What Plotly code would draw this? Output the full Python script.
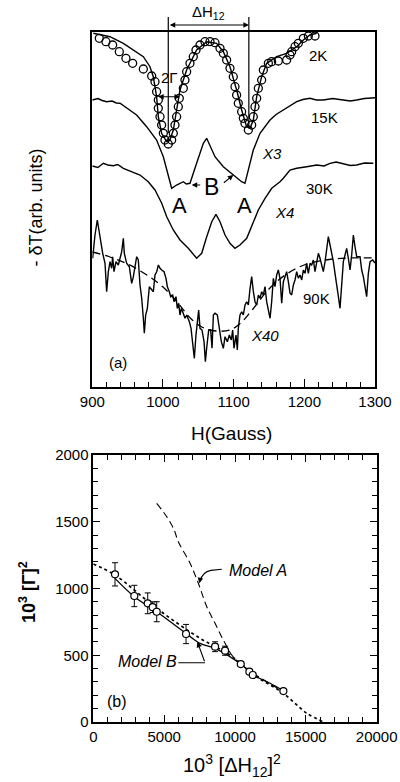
import plotly.graph_objects as go

# ---------------- panel (a) data: H (Gauss), signal (arb. units) ----------------
H_2K_pts = [909.9, 919.3, 928.8, 938.2, 947.6, 957.1, 972.2, 984.0, 988.7, 991.0, 993.4, 993.4,
            995.8, 998.1, 1000.5, 1002.8, 1007.5, 1012.3, 1014.6, 1017.0, 1019.3, 1021.7, 1023.1,
            1028.8, 1031.1, 1033.5, 1038.2, 1042.9, 1046.7, 1052.4, 1059.4, 1066.5, 1073.6, 1080.7,
            1085.4, 1090.1, 1094.8, 1099.5, 1101.9, 1104.2, 1106.6, 1111.3, 1113.7, 1116.0, 1120.8,
            1125.5, 1127.8, 1130.2, 1132.6, 1134.9, 1139.6, 1142.0, 1149.1, 1153.8, 1163.2, 1175.0,
            1179.7, 1182.1, 1186.8, 1191.5, 1198.6, 1205.7, 1215.1]
S_2K_pts = [348.7, 345.3, 342.0, 335.3, 328.7, 323.7, 318.0, 311.0, 305.3, 295.3, 287.0, 278.7,
            270.3, 262.0, 253.7, 247.0, 243.0, 247.0, 253.7, 262.0, 270.3, 280.3, 288.7,
            298.7, 307.0, 315.3, 323.7, 330.3, 337.0, 342.0, 345.3, 345.3, 344.3, 338.7,
            333.7, 327.0, 318.7, 310.3, 300.3, 292.0, 283.7, 275.3, 268.7, 263.7, 257.0,
            262.0, 270.3, 280.3, 288.7, 298.7, 307.0, 317.0, 323.7, 325.3, 326.0, 327.0,
            332.0, 335.3, 340.3, 343.7, 348.7, 351.0, 351.0]

H_2K_fit = [901.4, 925.0, 943.9, 958.0, 972.2, 981.6, 986.3, 991.0, 993.4, 998.1, 1005.2, 1009.9,
            1014.6, 1019.3, 1024.1, 1033.5, 1047.6, 1061.8, 1075.9, 1085.4, 1094.8, 1104.2, 1111.3,
            1118.4, 1123.1, 1127.8, 1132.6, 1139.6, 1146.7, 1160.9, 1175.0, 1189.2, 1198.6, 1208.0, 1217.5]
S_2K_fit = [353.7, 350.3, 343.7, 337.0, 330.3, 320.3, 310.3, 290.3, 270.3, 253.7, 245.3, 247.0,
            257.0, 277.0, 297.0, 317.0, 337.0, 345.3, 343.7, 335.3, 320.3, 297.0, 277.0,
            260.3, 258.7, 267.0, 290.3, 310.3, 323.7, 330.3, 333.7, 340.3, 347.0, 352.0, 353.7]

H_15K = [900.0, 908.0, 914.0, 920.3, 928.0, 934.0, 939.2, 948.6, 962.7, 976.9, 991.0, 1000.5, 1007.5,
         1012.3, 1019.3, 1024.0, 1028.8, 1033.0, 1038.2, 1047.6, 1057.1, 1061.8, 1066.5, 1073.6,
         1085.4, 1092.0, 1099.5, 1105.0, 1111.3, 1116.0, 1120.8, 1127.8, 1137.3, 1151.4, 1160.0,
         1170.3, 1180.0, 1189.2, 1198.0, 1208.0, 1217.0, 1226.9, 1240.0, 1255.2, 1265.0, 1274.1,
         1285.0, 1300.0]
S_15K = [287.0, 288.5, 286.5, 285.3, 286.0, 284.0, 283.7, 278.7, 272.0, 260.3, 247.0, 230.3, 210.3,
         198.7, 202.0, 204.0, 205.3, 203.0, 203.7, 223.7, 243.7, 248.7, 242.0, 230.3,
         220.3, 216.5, 212.0, 209.0, 205.3, 203.7, 217.0, 237.0, 253.7, 267.0, 272.5,
         277.0, 282.0, 285.3, 287.5, 288.7, 287.0, 287.0, 288.5, 287.0, 286.0, 287.0,
         288.5, 289.3]

H_30K = [900.0, 908.0, 915.6, 922.0, 929.7, 936.0, 943.9, 953.3, 967.5, 979.2, 988.7, 991.1, 998.2,
         1005.3, 1014.6, 1024.1, 1035.8, 1047.7, 1054.8, 1061.9, 1069.0, 1075.0, 1080.7, 1087.8,
         1094.8, 1101.8, 1108.9, 1118.5, 1127.8, 1134.9, 1144.4, 1153.9, 1165.6, 1170.3, 1179.7,
         1189.2, 1203.4, 1217.5, 1228.0, 1236.3, 1245.0, 1255.2, 1265.0, 1274.1, 1285.0, 1297.6]
S_30K = [221.0, 219.5, 223.7, 222.0, 221.3, 222.5, 218.7, 216.3, 212.0, 205.3, 197.0, 193.7, 183.7,
         170.3, 157.0, 147.0, 138.7, 128.7, 133.7, 150.3, 165.3, 172.7, 165.3, 152.0,
         143.7, 138.7, 142.0, 148.7, 163.7, 177.0, 188.7, 198.7, 205.3, 208.7, 217.0,
         218.7, 220.3, 222.0, 221.0, 223.7, 225.0, 223.0, 221.5, 222.0, 224.0, 223.7]

H_90K = [900.5, 903.8, 907.1, 910.9, 914.7, 918.0, 920.3, 922.7, 925.1, 927.4, 928.8, 930.7, 933.5,
         936.8, 939.2, 941.6, 943.9, 945.3, 948.6, 952.4, 955.7, 958.1, 962.8, 965.1, 967.5, 969.9,
         972.2, 973.6, 975.5, 977.9, 980.7, 984.0, 986.4, 988.7, 991.1, 993.5, 995.8, 998.2, 1001.5,
         1004.3, 1006.2, 1009.0, 1010.9, 1013.7, 1015.6, 1018.4, 1020.3, 1022.2, 1024.1, 1026.0,
         1028.8, 1031.2, 1033.5, 1037.3, 1039.7, 1042.0, 1044.4, 1046.7, 1049.1, 1050.5, 1052.4,
         1055.2, 1058.1, 1060.0, 1061.8, 1064.7, 1067.5, 1069.4, 1071.3, 1073.6, 1076.9, 1079.8,
         1082.6, 1085.4, 1087.8, 1091.1, 1093.9, 1096.7, 1098.6, 1100.5, 1103.3, 1105.2, 1106.6,
         1109.0, 1111.4, 1113.7, 1116.1, 1118.4, 1120.8, 1123.2, 1125.5, 1127.9, 1130.2, 1132.6,
         1135.0, 1137.3, 1139.7, 1142.0, 1144.4, 1146.7, 1149.1, 1151.5, 1153.8, 1156.2, 1158.5,
         1160.9, 1163.2, 1165.6, 1168.0, 1170.3, 1172.7, 1175.0, 1177.4, 1179.8, 1182.1, 1184.5,
         1186.8, 1189.2, 1191.6, 1193.9, 1196.3, 1198.6, 1201.0, 1203.3, 1205.7, 1208.1, 1210.4,
         1212.8, 1215.1, 1217.5, 1219.9, 1222.2, 1224.6, 1226.9, 1229.3, 1231.6, 1234.0, 1236.4,
         1238.7, 1241.1, 1243.4, 1245.8, 1248.2, 1250.5, 1252.9, 1255.2, 1257.6, 1259.9, 1262.3,
         1264.7, 1267.0, 1269.4, 1271.7, 1274.1, 1278.8, 1281.2, 1283.5, 1285.9, 1288.2, 1290.6,
         1293.0, 1296.7, 1300.0]
S_90K = [128.7, 152.0, 167.0, 148.7, 133.7, 123.7, 95.3, 115.3, 125.3, 118.7, 130.3, 115.3, 125.3,
         122.0, 128.7, 135.3, 148.7, 133.7, 123.7, 120.3, 103.7, 110.3, 130.3, 127.0, 102.0, 88.7,
         68.7, 53.7, 72.0, 78.7, 100.3, 97.0, 95.3, 112.0, 115.3, 122.0, 118.7, 117.0, 115.3,
         108.7, 100.3, 95.3, 90.3, 92.0, 85.3, 90.3, 78.7, 83.7, 72.0, 78.7,
         73.7, 68.7, 72.0, 65.3, 58.7, 43.7, 28.7, 52.0, 65.3, 77.0, 58.7,
         57.0, 45.3, 25.3, 38.7, 57.0, 57.0, 38.7, 72.0, 73.7, 72.0, 58.7,
         45.3, 38.7, 50.3, 45.3, 52.0, 47.0, 57.0, 38.7, 52.0, 37.0, 58.7,
         72.0, 75.3, 72.0, 82.0, 85.3, 82.0, 98.7, 110.3, 95.3, 85.3, 82.0,
         92.0, 88.7, 95.3, 92.0, 100.3, 85.3, 75.3, 68.7, 85.3, 108.7, 100.3,
         112.0, 117.0, 108.7, 83.7, 105.3, 110.3, 115.3, 105.3, 93.7, 92.0, 102.0,
         107.0, 115.3, 108.7, 112.0, 107.0, 117.0, 113.7, 123.7, 113.7, 123.7, 122.0,
         127.0, 115.3, 125.3, 133.7, 128.7, 122.0, 115.3, 125.3, 138.7, 150.3, 142.0,
         135.3, 125.3, 113.7, 98.7, 90.3, 78.7, 105.3, 125.3, 132.0, 138.7, 128.7,
         117.0, 132.0, 152.0, 140.3, 130.3, 130.3, 117.0, 110.3, 102.0, 90.3, 113.7,
         125.3, 127.0, 124.0]

H_90K_fit = [900, 925, 950, 975, 1000, 1020, 1040, 1055, 1075, 1095, 1110, 1125, 1150, 1175,
             1200, 1230, 1260, 1300]
S_90K_fit = [135, 130, 123, 113, 100, 85, 68, 60, 56, 57, 64, 76, 98, 113, 122, 127, 129, 129]

H_TICKS = [900, 1000, 1100, 1200, 1300]

# ---------------- panel (b) data ----------------
dH2 = [1532, 2895, 3840, 4190, 4476, 6545, 8592, 9298, 10406, 11014, 11253, 13414]
G2 = [1106, 944, 889, 860, 826, 659, 564, 534, 434, 377, 352, 232]
G2_err = [87, 80, 78, 40, 75, 72, 37, 34, 0, 0, 0, 0]

modelB_x = [1532, 2895, 4476, 6545, 7533, 8592, 10406, 11296, 12475, 13414]
modelB_y = [1076, 939, 826, 664, 589, 552, 434, 352, 290, 234]

lin_x = [0, 1532, 4476, 7533, 9651, 11536, 13414, 15066, 16250]
lin_y = [1183, 1101, 851, 627, 502, 339, 215, 65, 0]

modelA_x = [4476, 5181, 5700, 6001, 6827, 7413, 8006, 8592, 9178, 9769, 10357, 11296, 12238, 13180]
modelA_y = [1638, 1538, 1440, 1350, 1189, 1039, 864, 739, 614, 502, 440, 365, 302, 240]

X2_TICKS = [0, 5000, 10000, 15000, 20000]
Y2_TICKS = [0, 500, 1000, 1500, 2000]

# ---------------- layout geometry ----------------
W, HGT = 400, 782
TOP_X = [92.3 / W, 375.0 / W]
TOP_Y = [1 - 387.0 / HGT, 1 - 32.0 / HGT]
BOT_X = [93.3 / W, 376.7 / W]
BOT_Y = [1 - 722.0 / HGT, 1 - 455.0 / HGT]
H_RANGE = [900, 1300]
S_RANGE = [0, 355]


def top_px(h):
    return TOP_X[0] + (h - H_RANGE[0]) / (H_RANGE[1] - H_RANGE[0]) * (TOP_X[1] - TOP_X[0])


def top_py(s):
    return TOP_Y[0] + (s - S_RANGE[0]) / (S_RANGE[1] - S_RANGE[0]) * (TOP_Y[1] - TOP_Y[0])


FONT = "Liberation Sans, Arial, Helvetica, sans-serif"
BLK = "black"

fig = go.Figure()

# panel (a) traces
fig.add_trace(go.Scatter(x=H_2K_fit, y=S_2K_fit, mode="lines", line=dict(color=BLK, width=1.4),
                         xaxis="x", yaxis="y", showlegend=False))
fig.add_trace(go.Scatter(x=H_2K_pts, y=S_2K_pts, mode="markers",
                         marker=dict(symbol="circle-open", size=8, color=BLK, line=dict(width=1.3)),
                         xaxis="x", yaxis="y", showlegend=False))
fig.add_trace(go.Scatter(x=H_15K, y=S_15K, mode="lines", line=dict(color=BLK, width=1.4),
                         xaxis="x", yaxis="y", showlegend=False))
fig.add_trace(go.Scatter(x=H_30K, y=S_30K, mode="lines", line=dict(color=BLK, width=1.4),
                         xaxis="x", yaxis="y", showlegend=False))
fig.add_trace(go.Scatter(x=H_90K, y=S_90K, mode="lines", line=dict(color=BLK, width=1.4),
                         xaxis="x", yaxis="y", showlegend=False))
fig.add_trace(go.Scatter(x=H_90K_fit, y=S_90K_fit, mode="lines", line_shape="spline",
                         line=dict(color=BLK, width=1.3, dash="8px,5px"),
                         xaxis="x", yaxis="y", showlegend=False))

# panel (b) traces
fig.add_trace(go.Scatter(x=lin_x, y=lin_y, mode="lines", line_shape="spline",
                         line=dict(color=BLK, width=1.7, dash="dot"),
                         xaxis="x2", yaxis="y2", showlegend=False))
fig.add_trace(go.Scatter(x=modelA_x, y=modelA_y, mode="lines", line_shape="spline",
                         line=dict(color=BLK, width=1.1, dash="7px,4px"),
                         xaxis="x2", yaxis="y2", showlegend=False))
fig.add_trace(go.Scatter(x=modelB_x, y=modelB_y, mode="lines", line_shape="spline",
                         line=dict(color=BLK, width=1.3),
                         xaxis="x2", yaxis="y2", showlegend=False))
fig.add_trace(go.Scatter(x=dH2, y=G2, mode="markers",
                         marker=dict(symbol="circle", size=7, color="white", line=dict(width=1.2, color=BLK)),
                         error_y=dict(type="data", array=G2_err, color=BLK, thickness=1, width=3),
                         xaxis="x2", yaxis="y2", showlegend=False))

tickfont = dict(family=FONT, size=15, color=BLK)

fig.update_layout(
    width=W, height=HGT, margin=dict(l=0, r=0, t=0, b=0, autoexpand=False),
    paper_bgcolor="white", plot_bgcolor="white", showlegend=False,
    font=dict(family=FONT, color=BLK),
    xaxis=dict(domain=TOP_X, anchor="y", range=H_RANGE, showgrid=False, zeroline=False, automargin=False,
               showline=True, linecolor=BLK, linewidth=1.5, mirror=True,
               ticks="inside", ticklen=8, tickwidth=1.2, tickcolor=BLK,
               tickvals=H_TICKS, ticktext=[str(v) for v in H_TICKS], tickfont=tickfont,
               minor=dict(dtick=20, ticks="inside", ticklen=5, tickwidth=1, tickcolor=BLK, showgrid=False)),
    yaxis=dict(domain=TOP_Y, anchor="x", range=S_RANGE, showgrid=False, zeroline=False, automargin=False,
               showline=True, linecolor=BLK, linewidth=1.5, mirror=True,
               ticks="", showticklabels=False),
    xaxis2=dict(domain=BOT_X, anchor="y2", range=[0, 20000], showgrid=False, zeroline=False, automargin=False,
                showline=True, linecolor=BLK, linewidth=1.5, mirror="ticks",
                ticks="inside", ticklen=7, tickwidth=1.2, tickcolor=BLK,
                tickvals=X2_TICKS, ticktext=[str(v) for v in X2_TICKS], tickfont=tickfont,
                minor=dict(dtick=1000, ticks="inside", ticklen=5, tickwidth=1, tickcolor=BLK, showgrid=False)),
    yaxis2=dict(domain=BOT_Y, anchor="x2", range=[0, 2000], showgrid=False, zeroline=False, automargin=False,
                showline=True, linecolor=BLK, linewidth=1.5, mirror="ticks",
                ticks="inside", ticklen=7, tickwidth=1.2, tickcolor=BLK,
                tickvals=Y2_TICKS, ticktext=[str(v) for v in Y2_TICKS], tickfont=tickfont,
                minor=dict(dtick=100, ticks="inside", ticklen=5, tickwidth=1, tickcolor=BLK, showgrid=False)),
)

# ---------------- annotations / shapes ----------------
DIP1, DIP2 = 1007.5, 1121.5
shapes = [
    dict(type="line", xref="paper", yref="paper", x0=top_px(DIP1), x1=top_px(DIP1),
         y0=top_py(254), y1=top_py(370), line=dict(color=BLK, width=1.2)),
    dict(type="line", xref="paper", yref="paper", x0=top_px(DIP2), x1=top_px(DIP2),
         y0=top_py(265), y1=top_py(370), line=dict(color=BLK, width=1.2)),
    dict(type="path", xref="x2", yref="y2",
         path="M 9065,1144 L 8300,1136 Q 7700,1125 7530,1055", line=dict(color=BLK, width=1.1)),
    dict(type="line", xref="x2", yref="y2", x0=6001, x1=7886, y0=444, y1=444,
         line=dict(color=BLK, width=1.1)),
]
fig.update_layout(shapes=shapes)


def txt(x, y, s, size=14, xref="x", yref="y", italic=False, xanchor="center", yanchor="middle", **kw):
    t = f"<i>{s}</i>" if italic else s
    return dict(x=x, y=y, xref=xref, yref=yref, text=t, showarrow=False,
                xanchor=xanchor, yanchor=yanchor,
                font=dict(family=FONT, size=size, color=BLK), **kw)


def arrow(x, y, ax, ay, xref="x", yref="y", side="end", head=2):
    return dict(x=x, y=y, ax=ax, ay=ay, xref=xref, yref=yref, axref=xref, ayref=yref,
                text="", showarrow=True, arrowhead=head, arrowsize=1, arrowwidth=1.1,
                arrowcolor=BLK, arrowside=side, startarrowhead=head, startarrowsize=1)


ann = [
    # panel (a) labels
    txt(1219, 332, "2K", size=15), txt(1229, 270, "15K", size=15), txt(1154, 234, "X3", size=15, italic=True),
    txt(1222, 199, "30K", size=15), txt(1172.5, 175, "X4", size=15, italic=True),
    txt(1024, 182, "A", size=22), txt(1116, 182, "A", size=22), txt(1069, 200, "B", size=23),
    txt(1217.5, 89, "90K", size=15), txt(1144, 52, "X40", size=15, italic=True), txt(936, 25, "(a)", size=15),
    txt(1009, 310, "2Γ", size=15),
    arrow(1024.1, 290.3, 991.1, 290.3, side="end+start"),
    arrow(1040.6, 202, 1054.8, 202),
    arrow(1099.5, 212, 1084.0, 203),
    # ΔH12 header
    txt(top_px(1064.5), top_py(375), "ΔH<sub>12</sub>", size=15, xref="paper", yref="paper"),
    dict(x=DIP2, y=top_py(362), ax=DIP1, ay=0, xref="x", yref="paper", axref="x", ayref="pixel",
         text="", showarrow=True, arrowhead=2, arrowsize=1, arrowwidth=1.1, arrowcolor=BLK,
         arrowside="end+start"),
    # axis titles
    txt(232 / W, 1 - 433 / HGT, "H(Gauss)", size=19, xref="paper", yref="paper"),
    txt(35 / W, 1 - 207.5 / HGT, "- δT(arb. units)", size=18, xref="paper", yref="paper", textangle=-90),
    txt(27 / W, 1 - 592 / HGT, "<b>10<sup>3</sup> [Γ]<sup>2</sup></b>", size=18, xref="paper", yref="paper",
        textangle=-90),
    txt(232 / W, 0.0, "10<sup>3</sup> [ΔH<sub>12</sub>]<sup>2</sup>", size=20,
        xref="paper", yref="paper", yanchor="bottom"),
    # panel (b) labels
    txt(11628, 1138, "Model A", size=16, xref="x2", yref="y2", italic=True),
    txt(3827, 452, "Model B", size=16, xref="x2", yref="y2", italic=True),
    txt(1652, 152, "(b)", size=16, xref="x2", yref="y2"),
    arrow(7484, 1039, 7560, 1080, xref="x2", yref="y2"),
    arrow(7343, 601, 7886, 444, xref="x2", yref="y2"),
]
fig.update_layout(annotations=ann)

fig.write_html("out.html", config={"displayModeBar": False},
               post_script="document.body.style.margin='0px';")
